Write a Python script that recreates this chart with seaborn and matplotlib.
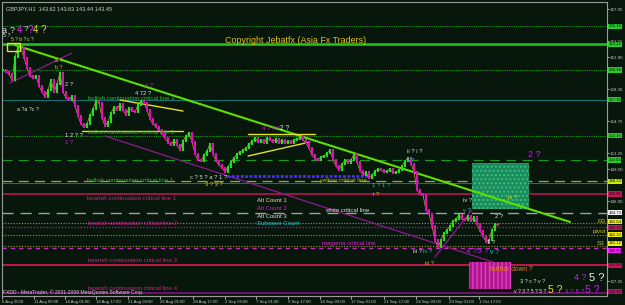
import numpy as np
import pandas as pd
import seaborn as sns
import matplotlib
matplotlib.use("Agg")
import matplotlib.pyplot as plt
from matplotlib.patches import Rectangle
from matplotlib.transforms import blended_transform_factory

# ---------------- data ----------------
closes = [
    160.38, 160.16, 159.94, 159.28, 161.80, 163.00, 162.78, 161.69, 160.60, 159.72,
    159.50, 159.72, 158.63, 157.97, 157.42, 158.19, 159.28, 157.97, 158.85, 160.05,
    157.97, 157.31, 157.10, 157.53, 156.44, 155.34, 154.47, 154.14, 154.47, 155.45,
    156.11, 156.99, 156.77, 155.13, 154.25, 154.69, 155.67, 156.33, 156.00, 156.66,
    156.00, 155.45, 156.22, 155.89, 155.78, 156.55, 156.99, 156.77, 156.00, 155.02,
    154.47, 154.14, 153.81, 153.38, 152.94, 152.39, 152.17, 152.72, 152.17, 151.63,
    152.61, 153.16, 153.48, 152.50, 151.19, 150.53, 150.42, 151.08, 151.52, 152.28,
    151.19, 150.42, 149.98, 149.66, 149.22, 149.77, 150.31, 150.75, 151.19, 151.41,
    151.63, 151.84, 152.28, 152.61, 152.94, 152.50, 152.72, 152.39, 152.94, 152.72,
    152.50, 152.83, 152.39, 152.72, 152.39, 152.61, 152.39, 152.72, 152.83, 153.05,
    152.72, 152.39, 151.84, 151.08, 150.64, 150.53, 150.86, 150.97, 151.30, 151.63,
    150.53, 149.87, 149.44, 150.09, 150.53, 150.20, 150.53, 151.19, 150.31, 149.33,
    148.89, 149.22, 148.56, 148.89, 149.33, 149.55, 149.44, 149.22, 149.33, 149.55,
    149.11, 149.22, 149.44, 149.87, 150.42, 150.75, 150.09, 149.22, 147.25, 146.81,
    146.70, 145.06, 144.62, 143.31, 141.78, 141.01, 141.78, 142.54, 142.87, 143.31,
    143.86, 144.08, 144.51, 144.08, 143.97, 144.40, 143.86, 144.30, 143.53, 142.76,
    142.22, 141.56, 141.78, 142.87, 143.53, 143.45]

time_labels = ["6 Aug 2009", "11 Aug 09:00", "14 Aug 01:00", "18 Aug 17:00",
               "21 Aug 09:00", "26 Aug 01:00", "28 Aug 17:00", "2 Sep 09:00",
               "7 Sep 01:00", "9 Sep 17:00", "14 Sep 09:00", "17 Sep 01:00",
               "21 Sep 17:00", "24 Sep 09:00", "29 Sep 01:00", "1 Oct 17:00"]
time_tick_bars = [-0.3, 10.3, 20.7, 31.0, 41.7, 52.3, 63.3, 74.0, 84.3, 95.0,
                  105.7, 116.0, 127.0, 137.7, 148.7, 158.7]

price_ticks = [167.05, 163.55, 161.80, 158.30, 154.75, 151.25, 149.50, 146.00, 137.25]

level_prices = [165.19, 163.22, 160.38, 157.10, 153.16, 150.53, 148.23, 148.01,
                146.81, 144.73, 143.64, 143.20, 142.33, 141.12, 140.90, 139.04, 135.98]
level_colors = ["#1c9a1c", "#22c822", "#1c9a1c", "#127070", "#1c9a1c", "#1c9a1c",
                "#a8a820", "#127070", "#c8145a", "#a0a0a0", "#9a9a20", "#c010c0",
                "#9a9a20", "#9a9a20", "#d020c8", "#d0184e", "#701070"]
level_styles = [(0, (1, 1)), "-", (0, (1, 1)), "-", (0, (1, 1)), (0, (8, 5)),
                (0, (8, 5)), "-", "-", (0, (8, 5)), (0, (1, 1.5)), (0, (1, 1.5)),
                (0, (1, 1.5)), (0, (1, 1.5)), (0, (3, 3)), "-", "-"]
level_widths = [0.8, 1.8, 0.8, 0.8, 0.8, 0.9, 0.9, 0.8, 1.1, 1.0, 0.8, 0.9,
                0.8, 0.8, 1.0, 1.3, 1.4]
box_colors = ["#22d022", "#22d022", "#22d022", "#22d022", "#22d022", "#22d022",
              "#c8e800", None, "#d0105a", "#f0f0f0", "#f0f000", "#d0105a",
              "#f0f000", "#f0f000", "#ff20ff", "#d0105a", "#c0106a"]
# small vertical nudges so stacked price boxes stay readable
box_nudge = [0, 0, 0, 0, 0, 0, 0, 0, 0, 0.05, 0.15, -0.1, 0, 0.3, -0.3, 0, 0.15]

# trendlines: (bar0, price0, bar1, price1)
trend_bars0 = [4.0, 34.0, 2.3, 144.0, 39.0, 26.3, 81.7, 81.7, 74.7]
trend_p0 = [163.11, 153.16, 158.95, 139.92, 157.10, 153.70, 153.37, 150.97, 148.78]
trend_bars1 = [189.0, 163.3, 23.0, 156.3, 60.0, 60.0, 104.0, 102.3, 121.7]
trend_p1 = [143.75, 139.37, 162.24, 145.06, 155.89, 153.70, 153.37, 152.50, 148.78]
trend_colors = ["#5ee000", "#8c1a8c", "#8c1a8c", "#8c1a8c", "#e8e020", "#e8e020",
                "#e8e020", "#e8e020", "#4a2cff"]
trend_widths = [1.5, 0.9, 0.9, 0.9, 1.0, 1.0, 1.0, 1.0, 2.0]

bg = "#08170c"

# ---------------- figure ----------------
sns.set_style("dark", {"axes.facecolor": bg, "figure.facecolor": bg})
plt.rcParams["font.family"] = ["Liberation Sans", "DejaVu Sans"]

fig = plt.figure(figsize=(6.25, 3.05), dpi=100)
ax = fig.add_axes([2 / 625, 9 / 305, 605 / 625, 294 / 305])
ax.set_facecolor(bg)
ax.set_xlim(-1 / 3, 201.33)
ax.set_ylim(135.65, 167.82)

# horizontal levels
for p, c, ls, lw in zip(level_prices, level_colors, level_styles, level_widths):
    ax.axhline(p, color=c, ls=ls, lw=lw, zorder=1)

# rectangles
ax.add_patch(Rectangle((156.3, 145.17), 19.0, 5.03, facecolor="#1b8a5c",
                       edgecolor="#35c080", hatch="....", lw=0, zorder=1.5))
ax.add_patch(Rectangle((155.3, 136.42), 14.0, 2.95, facecolor="#b0168c",
                       edgecolor="#e040c0", hatch="||||", lw=0, zorder=1.5))
ax.add_patch(Rectangle((1.3, 162.45), 4.4, 0.9, facecolor="none",
                       edgecolor="#e8e020", lw=1.0, zorder=4))

# trendlines via seaborn
for b0, p0, b1, p1, c, lw in zip(trend_bars0, trend_p0, trend_bars1, trend_p1,
                                 trend_colors, trend_widths):
    d = pd.DataFrame({"bar": [b0, b1], "price": [p0, p1]})
    sns.lineplot(data=d, x="bar", y="price", color=c, lw=lw, ax=ax, zorder=2,
                 ls=(0, (1, 0.6)) if c == "#4a2cff" else "-")

# candles
cl = np.array(closes)
bars = np.arange(len(cl))
op = np.r_[cl[0], cl[:-1]]
up = cl >= op
df = pd.DataFrame({"bar": bars, "close": cl})
sns.lineplot(data=df, x="bar", y="close", color="#d8a020", lw=0.5, ax=ax, zorder=3)
ax.vlines(bars[up], op[up] - 0.12, cl[up] + 0.12, colors="#20e020", lw=1.5, zorder=3.2)
ax.vlines(bars[~up], cl[~up] - 0.12, op[~up] + 0.12, colors="#e010b8", lw=1.5, zorder=3.2)

# ---------------- texts ----------------
def T(b, p, s, c, fs=4.3, **kw):
    ax.text(b, p, s, color=c, fontsize=fs, ha="left", va="center", zorder=5, **kw)

ax.text(0.006, 0.985, "GBPJPY,H1  143.62 143.63 143.44 143.45", transform=ax.transAxes,
        color="#d0d0d0", fontsize=4.0, ha="left", va="top")
T(74.0, 163.66, "Copyright Jebatfx (Asia Fx Traders)", "#e0c020", fs=6.4)

gcol = "#30b830"
mcol = "#d02090"
T(28.3, 157.31, "bullish continuation critical line 3", gcol)
T(28.3, 153.59, "bullish continuation critical line 2", gcol)
T(28.0, 148.34, "bullish continuation critical line 1", gcol)
T(28.0, 146.37, "bearish continuation critical line 1", mcol)
T(28.3, 143.53, "bearish continuation critical line 2", mcol)
T(28.3, 139.48, "bearish continuation critical line 3", mcol)
T(28.3, 136.50, "bearish continuation critical line 4", mcol)
T(84.7, 146.15, "Alt Count 1", "#e8e0a0")
T(84.7, 145.17, "Alt Count 2", "#d020d0")
T(84.7, 144.40, "Alt Count 3", "#e0e0e0")
T(84.7, 143.53, "Subwave Count", "#20c0c0")
T(105.7, 148.34, "yellow critical line", "#c8c020")
T(107.3, 145.06, "white critical line", "#e0e0e0")
T(106.3, 141.34, "magenta critical line", "#e020e0")
T(162.3, 138.50, "further down ?", "#e88020", fs=4.8)
T(0.0, 136.05, "FXDD - MetaTrader, \u00a9 2001-2009 MetaQuotes Software Corp.", "#d0d0d0", fs=3.6)
T(198.0, 143.75, "R3", "#c8c020", fs=4.6)
T(196.7, 142.76, "pivot", "#c8c020", fs=4.6)
T(198.0, 141.34, "S3", "#c8c020", fs=4.6)

# wave labels
T(-0.3, 164.75, "a", "#e0e0e0", fs=6.5)
T(2.2, 164.75, "?", "#e0e0e0", fs=6.5)
T(4.6, 164.75, "4", "#e020e0", fs=7)
T(7.0, 164.85, "?", "#e0e0e0", fs=6)
T(8.2, 164.75, "?", "#e020e0", fs=7)
T(10.0, 164.75, "4 ?", "#e8e020", fs=7)
T(0.0, 164.10, "5 ?", "#e0e0e0", fs=3.8)
T(2.6, 163.75, "5 ? b ?", "#e8e020", fs=3.6)
T(8.0, 163.75, "c ?", "#e8e020", fs=3.6)
T(4.7, 156.11, "a ?a ?c ?", "#e0e0e0", fs=3.8)
T(17.3, 161.47, "a ?", "#e8c020", fs=3.8)
T(17.3, 160.70, "b ?", "#e8c020", fs=3.8)
T(20.7, 158.74, "2 ?", "#e0e0e0", fs=4.2)
T(44.0, 157.86, "4 72 ?", "#e0e0e0", fs=4.2)
T(47.3, 158.63, "a ?", "#c020c0", fs=4.2)
T(20.7, 153.16, "1 2 ? ?", "#e0e0e0", fs=4.2)
T(20.7, 152.50, "1 ?", "#c020c0", fs=4.2)
T(86.3, 154.03, "4 ? 4 ?", "#c020c0", fs=4.2)
T(92.3, 154.03, "2 ?", "#e0e0e0", fs=4.8)
T(62.3, 148.67, "c ? 5 ? a ? 1 ?", "#e0e0e0", fs=4.2)
T(67.3, 147.90, "3 ? 3 ?", "#e8c020", fs=4.2)
T(134.7, 151.41, "ii ? i ?", "#e0e0e0", fs=4.2)
T(135.0, 150.53, "i ?", "#20c0c0", fs=4.2)
T(123.0, 147.79, "1 ? 1 ?", "#20c0c0", fs=4.2)
T(123.3, 146.81, "i ?", "#e8c020", fs=4.2)
T(153.3, 146.15, "iv ?", "#e0e0e0", fs=4.2)
T(153.3, 145.06, "v ?", "#20c0c0", fs=4.2)
T(168.3, 146.48, "iv ?", "#e8e020", fs=4.2)
T(175.0, 151.08, "2 ?", "#c020e0", fs=6.5)
T(164.0, 144.40, "2 ?", "#e0e0e0", fs=4.2)
T(161.3, 141.45, "1 ?", "#e0e0e0", fs=4.2)
T(154.3, 140.57, "4 ?5 ?", "#c020e0", fs=5.8)
T(162.3, 140.46, "v ?", "#20c0c0", fs=4.8)
T(136.7, 140.57, "iii ?", "#e0e0e0", fs=4.2)
T(140.0, 140.57, "iv ?", "#20c0c0", fs=4.2)
T(140.7, 139.26, "iii ?", "#e8c020", fs=4.2)
T(172.3, 137.20, "3 ? c ? v ?", "#e0e0e0", fs=4.0)
T(170.3, 136.10, "v ? 3 ? 5 ? 5 ?", "#e0e0e0", fs=3.7)
T(181.7, 136.30, "5 ?", "#e8e020", fs=7.5)
T(187.3, 136.10, "3 ? 5 ?", "#c020e0", fs=4.6)
T(194.0, 136.30, "5 ?", "#c020e0", fs=7.5)
T(190.3, 137.65, "4 ?", "#c020e0", fs=6.5)
T(195.3, 137.65, "5 ?", "#f0f0f0", fs=8)

# level boxes on price axis
tr = blended_transform_factory(ax.transAxes, ax.transData)
for p, bc, nd in zip(level_prices, box_colors, box_nudge):
    if bc is None:
        continue
    ax.text(1.002, p + nd, f"{p:.2f}", transform=tr, fontsize=3.1, color="#101010",
            ha="left", va="center", clip_on=False, zorder=6,
            bbox=dict(boxstyle="square,pad=0.12", fc=bc, ec="none"))

# axes styling
ax.yaxis.tick_right()
ax.set_yticks(price_ticks)
ax.set_yticklabels([f"{v:.2f}" for v in price_ticks])
ax.set_xticks(time_tick_bars)
ax.set_xticklabels(time_labels, ha="left")
ax.tick_params(axis="y", colors="#c8c8c8", labelsize=3.2, length=1.5, width=0.6,
               pad=0.6, right=True, left=False)
ax.tick_params(axis="x", colors="#c8c8c8", labelsize=3.1, length=2, width=0.6,
               pad=1.0, bottom=True)
ax.set_xlabel("")
ax.set_ylabel("")
ax.grid(False)
for s in ax.spines.values():
    s.set_visible(True)
    s.set_color("#9a9a9a")
    s.set_linewidth(0.8)

fig.savefig("out.png", dpi=100, facecolor=bg)
